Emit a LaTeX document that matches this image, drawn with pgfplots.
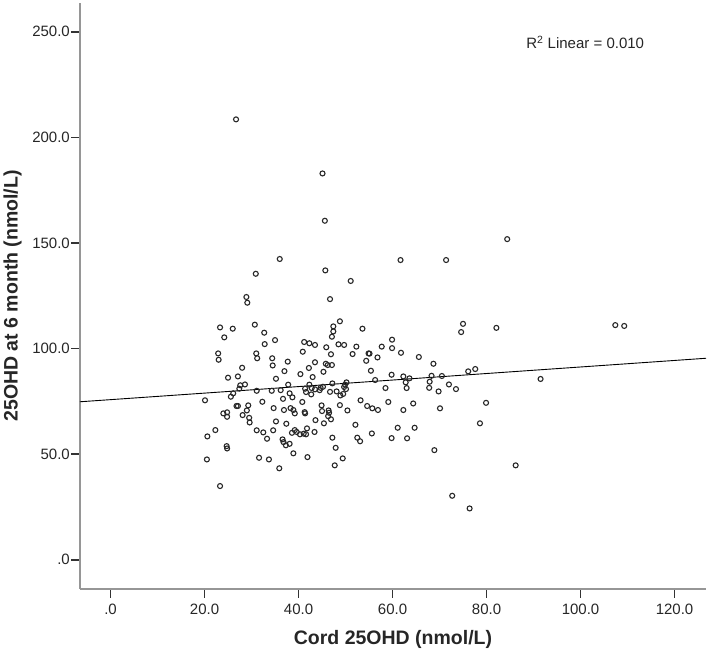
\documentclass[border=0pt]{standalone}
\usepackage{fontspec}
\setmainfont{Liberation Sans}
\usepackage{pgfplots}
\pgfplotsset{compat=1.18}
\usepackage{pgfplotstable}
\definecolor{axgray}{RGB}{150,150,150}
\definecolor{mk}{RGB}{40,40,40}
\pgfplotstableread{
x y
26.7 208.5
45.1 182.9
45.6 160.5
36.0 142.4
30.9 135.4
45.7 137.0
51.1 132.0
28.9 124.4
29.1 121.7
46.7 123.4
84.4 151.8
61.7 141.9
71.4 141.9
107.4 111.1
109.3 110.7
82.1 109.8
75.0 111.7
74.6 107.8
86.2 44.7
72.7 30.3
76.4 24.3
23.3 34.9
91.5 85.6
78.6 64.6
68.9 51.9
23.3 110.0
26.0 109.4
30.7 111.3
24.2 105.3
32.7 107.5
35.0 104.0
32.8 102.1
22.9 97.7
23.0 94.7
31.0 97.7
31.2 95.4
34.4 95.4
34.5 92.0
37.7 93.8
28.0 90.9
37.0 89.3
25.0 86.2
27.1 86.8
35.2 85.7
37.8 82.9
27.6 82.6
28.6 83.0
27.4 81.0
31.1 80.0
34.3 80.0
36.2 80.3
26.1 78.8
38.1 78.8
48.8 112.9
47.4 110.5
47.4 108.1
47.1 105.6
53.6 109.4
41.2 103.1
42.3 102.5
43.5 101.7
48.5 102.0
49.7 101.7
45.9 100.6
52.3 100.9
40.9 98.5
46.9 97.3
51.5 97.4
54.9 97.7
55.1 97.6
57.7 100.9
59.9 104.2
59.9 100.2
56.8 95.8
54.4 94.2
43.5 93.5
45.8 92.8
46.2 92.2
47.1 92.2
42.2 90.8
55.4 89.5
45.3 89.0
40.4 87.9
43.0 86.5
59.8 87.6
56.3 85.1
50.2 84.0
49.9 82.9
47.2 83.5
42.3 82.9
41.4 81.0
42.8 81.3
43.5 80.7
44.7 81.4
45.2 81.9
49.7 81.8
58.5 81.3
50.1 80.8
48.1 79.7
46.7 79.5
41.6 79.4
42.7 78.3
44.5 80.3
49.5 78.5
48.9 77.8
61.8 98.0
65.6 96.0
68.7 92.8
76.1 89.2
77.6 90.3
62.3 86.8
63.6 85.9
62.8 84.0
68.3 87.1
70.5 87.0
67.9 84.3
67.8 81.4
72.0 83.0
73.5 80.8
69.8 79.7
63.0 81.3
20.1 75.5
25.6 77.2
32.3 74.8
36.7 76.2
34.7 71.8
36.9 70.9
38.3 71.8
38.9 70.9
38.7 76.9
26.8 72.8
27.1 72.8
29.3 73.1
29.0 70.7
24.0 69.3
24.8 69.8
24.8 67.7
28.1 68.5
29.5 67.2
29.6 65.0
35.2 65.5
37.4 64.4
22.3 61.4
20.6 58.4
31.1 61.3
32.5 60.3
34.6 61.3
33.3 57.3
36.6 57.0
36.8 55.7
37.3 54.2
38.1 54.9
38.6 60.1
24.7 53.8
24.8 52.7
20.5 47.5
31.6 48.3
33.7 47.5
35.9 43.3
38.9 50.4
40.8 74.7
41.3 69.9
41.4 69.3
39.2 69.3
44.9 73.1
45.0 70.4
46.4 70.7
46.5 69.6
46.3 68.0
46.9 66.5
48.8 73.2
50.4 70.7
53.2 75.5
54.6 72.8
55.7 71.7
56.9 70.9
59.1 74.7
43.6 66.1
45.4 64.6
52.1 63.9
39.2 61.4
39.6 60.5
40.3 59.4
41.1 59.7
41.8 62.2
41.6 59.4
43.4 60.5
47.2 57.8
52.5 57.8
53.1 56.1
55.6 59.8
59.8 57.6
47.9 53.0
41.9 48.6
49.4 48.0
47.7 44.7
64.4 74.0
62.3 70.9
70.1 71.7
79.9 74.3
61.1 62.5
64.7 62.5
63.1 57.5
}\pts
\pgfplotstableread{
x y
-6.5 74.8
126.7 95.4
}\fit
\begin{document}
\begin{tikzpicture}
\begin{axis}[
  scale only axis,
  width=626pt, height=585.7pt,
  xmin=-6.5, xmax=126.7,
  ymin=-13.7, ymax=263.6,
  axis lines=left,
  axis line style={-, draw=axgray, line width=1.6pt},
  tick align=outside,
  major tick length=9pt,
  tick style={draw=black!80, line width=1.6pt},
  xtick={0,20,40,60,80,100,120},
  xticklabels={.0,20.0,40.0,60.0,80.0,100.0,120.0},
  ytick={0,50,100,150,200,250},
  yticklabels={.0,50.0,100.0,150.0,200.0,250.0},
  ticklabel style={font=\fontsize{15}{18}\selectfont, text=black!85},
  yticklabel style={inner sep=1pt},
  xticklabel style={inner sep=6.5pt},
  xlabel={\textbf{Cord 25OHD (nmol/L)}},
  ylabel={\textbf{25OHD at 6 month (nmol/L)}},
  label style={font=\fontsize{19.5}{23}\selectfont, text=black!85},
  xlabel style={at={(axis description cs:0.5,-0.0859)}, anchor=center},
  ylabel style={at={(axis description cs:-0.1078,0.5)}, anchor=center},
  clip=true,
]
\addplot[only marks, mark=o, mark size=2.5pt, mark options={draw=mk, line width=1.1pt}] table[x=x,y=y] {\pts};
\addplot[no marks, black, line width=0.9pt] table[x=x,y=y] {\fit};
\node[anchor=center, font=\fontsize{15}{18}\selectfont, text=black!85] at (axis cs:101,245.1) {R\textsuperscript{2} Linear = 0.010};
\end{axis}
\pgfresetboundingbox
\path ([shift={(-80pt,-64.3pt)}]current axis.south west) rectangle ([shift={(3pt,3pt)}]current axis.north east);
\end{tikzpicture}
\end{document}
